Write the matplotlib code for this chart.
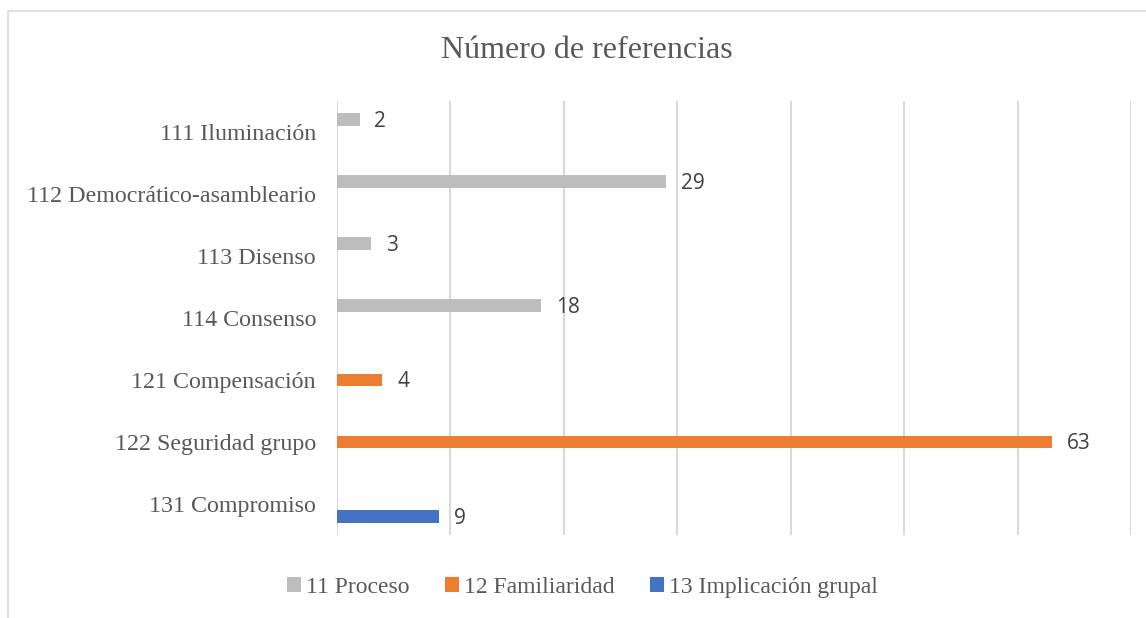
import matplotlib.pyplot as plt
import numpy as np
from matplotlib.patches import Rectangle

categorias = ['111 Iluminación', '112 Democrático-asambleario', '113 Disenso',
              '114 Consenso', '121 Compensación', '122 Seguridad grupo',
              '131 Compromiso']
series = ['11 Proceso', '12 Familiaridad', '13 Implicación grupal']
proceso = [2, 29, 3, 18, 0, 0, 0]
familiaridad = [0, 0, 0, 0, 4, 63, 0]
implicacion = [0, 0, 0, 0, 0, 0, 9]
colores = ['#BDBDBD', '#ED7D31', '#4472C4']

fig = plt.figure(figsize=(11.46, 6.18), dpi=100)
ax = fig.add_axes([0.294, 0.134, 0.693, 0.703])

# marco del grafico
fig.patches.append(Rectangle((0.007, -0.01), 1.0, 0.992, transform=fig.transFigure,
                             fill=False, edgecolor='#D9D9D9', linewidth=1.2))

y = np.arange(len(categorias))
alto = 0.2
offsets = [-0.2, 0.0, 0.2]
for vals, off, col, nom in zip([proceso, familiaridad, implicacion], offsets, colores, series):
    vals = np.array(vals)
    ax.barh(y + off, vals, height=alto, color=col, label=nom, zorder=3)
    for yi, v in zip(y + off, vals):
        if v > 0:
            ax.text(v + 1.3, yi + 0.03, str(v), va='center', ha='left',
                    fontsize=15, color='#404040', family='Open Sans')

ax.set_xlim(0, 70)
ax.set_ylim(6.5, -0.5)
ax.set_xticks(np.arange(0, 71, 10))
ax.set_xticklabels([])
ax.tick_params(axis='x', length=0)
ax.tick_params(axis='y', length=0, pad=15)
ax.set_yticks(y)
ax.set_yticklabels(categorias, family='Liberation Serif', fontsize=17.3, color='#595959')
ax.grid(axis='x', color='#D9D9D9', linewidth=1.5, zorder=0)
for s in ax.spines.values():
    s.set_visible(False)

fig.text(0.512, 0.918, 'Número de referencias', ha='center', va='center',
         family='Liberation Serif', fontsize=23, color='#595959')

leg = fig.legend(loc='center', bbox_to_anchor=(0.508, 0.05), ncol=3, frameon=False,
                 prop={'family': 'Liberation Serif', 'size': 17},
                 handlelength=0.6, handleheight=0.6, handletextpad=0.2, columnspacing=1.5)
for t in leg.get_texts():
    t.set_color('#595959')

plt.savefig('out.png', dpi=100)
